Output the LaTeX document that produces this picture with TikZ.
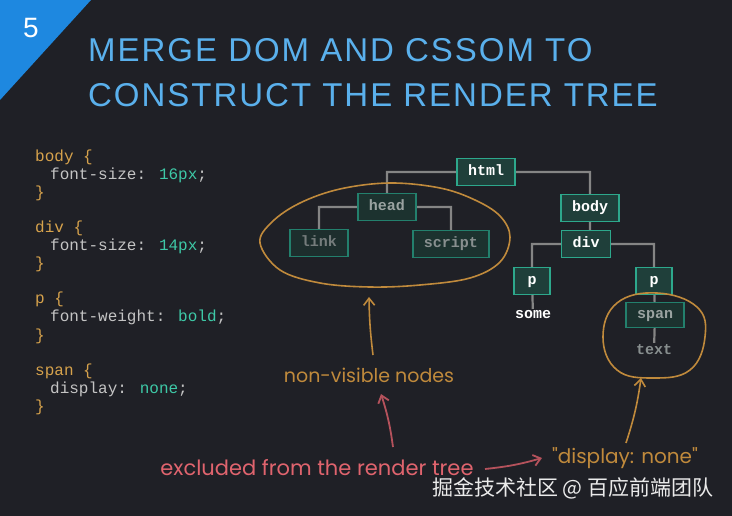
\documentclass[tikz,border=0pt]{standalone}
\usepackage{fontspec}
\usepackage{tikz}
\usetikzlibrary{arrows,arrows.meta,positioning}

\newfontfamily\titlefont{Liberation Sans}[LetterSpace=6]
\newfontfamily\handfont{Poppins}
\newfontfamily\codefont{Liberation Mono}
\newfontfamily\treefont{Liberation Mono}[BoldFont={Liberation Mono Bold}]
\newfontfamily\cjk{Noto Sans CJK SC}

\definecolor{bgdark}{HTML}{1F2026}
\definecolor{cornerblue}{HTML}{1E88E0}
\definecolor{titleblue}{HTML}{5AB0EC}
\definecolor{codegold}{HTML}{D6A24C}
\definecolor{codegrey}{HTML}{C4C4C4}
\definecolor{codeteal}{HTML}{3EC9A7}
\definecolor{boxline}{HTML}{2DA88C}
\definecolor{boxfill}{HTML}{1F3F3A}
\definecolor{dimline}{HTML}{23806D}
\definecolor{dimfill}{HTML}{1C322F}
\definecolor{dimtext}{HTML}{9AA3A1}
\definecolor{wiregrey}{HTML}{858585}
\definecolor{ochre}{HTML}{C08A3C}
\definecolor{redtext}{HTML}{E0646E}
\definecolor{redarrow}{HTML}{B5525C}

\newcommand{\cssSel}[1]{\textcolor{codegold}{#1}}
\newcommand{\cssProp}[1]{\textcolor{codegrey}{#1}}
\newcommand{\cssVal}[1]{\textcolor{codeteal}{#1}}

\begin{document}
\begin{tikzpicture}[x=1pt,y=-1pt,>={Straight Barb[length=7pt,width=11pt]},node distance=9pt,
  tree node/.style={draw=boxline,fill=boxfill,line width=1.8pt,text=white,
        font=\treefont\bfseries\fontsize{15}{15}\selectfont,inner xsep=11pt,
        minimum height=27pt,text height=9pt,text depth=2pt},
  dim node/.style={tree node,draw=dimline,fill=dimfill,text=dimtext},
  leaf text/.style={font=\treefont\bfseries\fontsize{15}{15}\selectfont,inner sep=2pt},
  wire/.style={draw=wiregrey,line width=2.2pt},
  ring/.style={draw=ochre,line width=1.6pt},
  code line/.style={anchor=base west,inner sep=0pt,font=\codefont\fontsize{16}{16}\selectfont},
  hand note/.style={font=\handfont\fontsize{19}{19}\selectfont,inner sep=1pt}]

  % background and corner
  \fill[bgdark] (0,0) rectangle (732,516);
  \fill[cornerblue] (0,0) -- (91,0) -- (0,100) -- cycle;
  \node[text=white,font=\titlefont\fontsize{28}{28}\selectfont] (step no) at (31,28) {5};

  % title
  \node[anchor=west,text=titleblue,font=\titlefont\fontsize{33}{33}\selectfont,inner sep=0pt] (title1) at (88,50) {MERGE DOM AND CSSOM TO};
  \node[anchor=west,text=titleblue,font=\titlefont\fontsize{33}{33}\selectfont,inner sep=0pt] (title2) at (88,95) {CONSTRUCT THE RENDER TREE};

  % css rules
  \node[code line] (c1)  at (35,162) {\cssSel{body \{}};
  \node[code line] (c2)  at (50,180) {\cssProp{font-size:} \cssVal{16px}\cssProp{;}};
  \node[code line] (c3)  at (35,198) {\cssSel{\}}};
  \node[code line] (c4)  at (35,233) {\cssSel{div \{}};
  \node[code line] (c5)  at (50,251) {\cssProp{font-size:} \cssVal{14px}\cssProp{;}};
  \node[code line] (c6)  at (35,269) {\cssSel{\}}};
  \node[code line] (c7)  at (35,304) {\cssSel{p \{}};
  \node[code line] (c8)  at (50,322) {\cssProp{font-weight:} \cssVal{bold}\cssProp{;}};
  \node[code line] (c9)  at (35,340) {\cssSel{\}}};
  \node[code line] (c10) at (35,375) {\cssSel{span \{}};
  \node[code line] (c11) at (50,393) {\cssProp{display:} \cssVal{none}\cssProp{;}};
  \node[code line] (c12) at (35,411) {\cssSel{\}}};

  % wires first, boxes on top
  \coordinate (html) at (486,172);
  \coordinate (head) at (387,207);
  \coordinate (link) at (319,243);
  \coordinate (script) at (451,244);
  \coordinate (body) at (590,208);
  \coordinate (div) at (586,244);
  \coordinate (p1) at (532,281);
  \coordinate (p2) at (654,281);
  \coordinate (span) at (655,315);
  \coordinate (some) at (533,315);
  \coordinate (text) at (654,350);
  \path[wire]
    (html) -| (head)
    (head) -| (link)
    (head) -| (script)
    (html) -| (body)
    (body) -- (body |- div)
    (div) -| (p1)
    (div) -| (p2)
    (p1) -- (some)
    (p2) -- (span)
    (span) -- (text);

  % render tree
  \node[tree node] (html node) at (html) {html};
  \node[dim node]  (head node) at (head) {head};
  \node[dim node,text=dimtext!70!bgdark,fill=dimfill!80!bgdark] (link node) at (link) {link};
  \node[dim node,text=dimtext!85!bgdark] (script node) at (script) {script};
  \node[tree node] (body node) at (body) {body};
  \node[tree node] (div node) at (div) {div};
  \node[tree node,minimum width=36pt,inner xsep=4pt] (p1 node) at (p1) {p};
  \node[tree node,minimum width=36pt,inner xsep=4pt] (p2 node) at (p2) {p};
  \node[dim node,minimum height=25pt] (span node) at (span) {span};
  \node[leaf text,fill=bgdark,text=white] (some node) at (some) {some};
  \node[leaf text,fill=bgdark,text=dimtext!85!bgdark] (text node) at (text) {text};

  % rings round the hidden nodes
  \draw[ring] plot[smooth cycle,tension=0.6] coordinates {
    (260,243) (272,222) (300,203) (340,189) (390,183) (440,188) (475,200)
    (500,216) (510,237) (500,262) (470,278) (420,285) (370,287) (320,283) (280,270)};
  \draw[ring] plot[smooth cycle,tension=0.7] coordinates {
    (603,337) (617,303) (657,293) (697,307) (705,337) (690,370) (653,378) (617,370)};

  % notes
  \node[hand note,text=ochre] (nonvis) at (369,375) {non-visible nodes};
  \node[hand note,text=redtext,font=\handfont\fontsize{21}{21}\selectfont] (excl) at (317,468) {excluded from the render tree};
  \node[hand note,text=ochre,font=\handfont\fontsize{20}{20}\selectfont] (dispnone) at (625,458) {"display: none"};

  \coordinate (lefttip) at (369,297);
  \coordinate (leftend) at (373,355);
  \coordinate (redtip) at (381,394);
  \coordinate (redend) at (393,447);
  \coordinate (sidetail) at (485,469);
  \coordinate (sidetip) at (542,458);
  \coordinate (righttip) at (641,378);
  \coordinate (rightend) at (626,443);

  \draw[->,ochre,line width=1.6pt] (leftend) to[bend left=3] (lefttip);
  \draw[->,redarrow,line width=1.8pt] (redend) to[bend right=5] (redtip);
  \draw[->,redarrow,line width=1.8pt] (sidetail) to[bend right=5] (sidetip);
  \draw[->,ochre,line width=1.6pt] (rightend) to[bend right=5] (righttip);

  % watermark
  \node[anchor=west,text=white!92!black,font=\cjk\fontsize{21}{21}\selectfont,inner sep=0pt] (mark) at (432,488) {掘金技术社区 @ 百应前端团队};
\end{tikzpicture}
\end{document}
